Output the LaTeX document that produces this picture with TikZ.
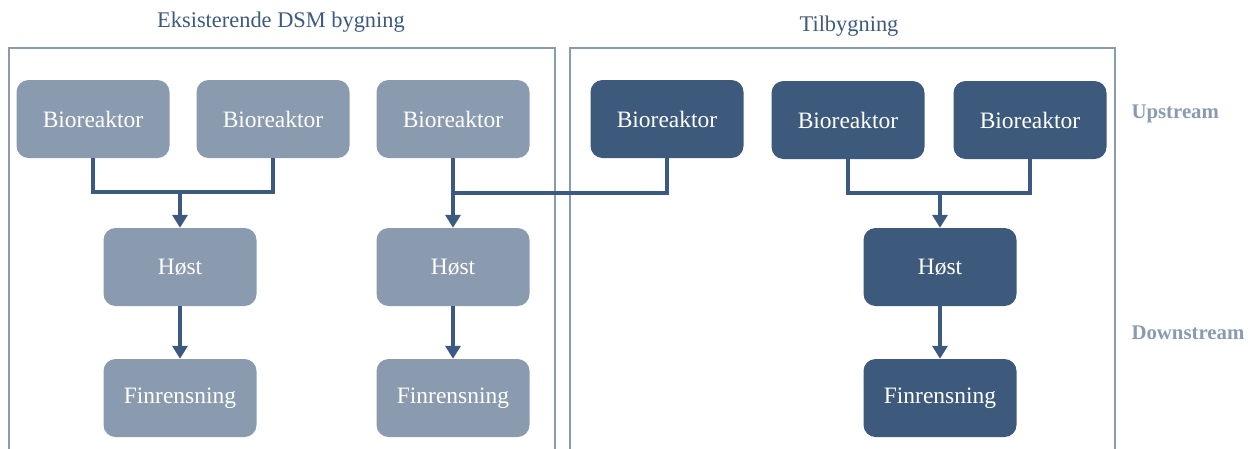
\documentclass[tikz,border=0pt]{standalone}
\usepackage{fontspec}
\setmainfont{Liberation Serif}
\usetikzlibrary{arrows.meta}
\definecolor{lightbox}{HTML}{8A9BB0}
\definecolor{darkbox}{HTML}{3D5A7D}
\definecolor{linkcol}{HTML}{3C5A80}
\definecolor{framecol}{HTML}{8A9BB0}
\definecolor{titlecol}{HTML}{3D5A7D}
\tikzset{
  proc/.style={rounded corners=12pt, minimum width=153pt, minimum height=78pt,
    text=white, font=\fontsize{23.5}{26}\selectfont, inner sep=0pt},
  oldproc/.style={proc, fill=lightbox},
  newproc/.style={proc, fill=darkbox},
  link/.style={draw=linkcol, line width=4pt},
  flow/.style={link, -{Triangle[width=15pt,length=13pt]}},
  frame/.style={draw=framecol, line width=1.5pt},
  title/.style={text=titlecol, font=\fontsize{22.4}{26}\selectfont},
  stage/.style={text=lightbox, font=\bfseries\fontsize{20.8}{23}\selectfont, anchor=west}
}
\begin{document}
\begin{tikzpicture}[x=1pt,y=-1pt]
\useasboundingbox (0,0) rectangle (1257,448);
% building outlines, open at the bottom
\draw[frame] (9,449) |- (555,48) -- (555,449);
\draw[frame] (570,449) |- (1115,48) -- (1115,449);
\node[title] (t1) at (281,22) {Eksisterende DSM bygning};
\node[title] (t2) at (849,26) {Tilbygning};
\node[stage] (up) at (1128,114) {Upstream};
\node[stage] (down) at (1128,333) {Downstream};
% existing building
\node[oldproc] (b1) at (93,119) {Bioreaktor};
\node[oldproc] (b2) at (273,119) {Bioreaktor};
\node[oldproc] (b3) at (453,119) {Bioreaktor};
\node[oldproc] (h1) at (180,267) {Høst};
\node[oldproc] (h2) at (453,267) {Høst};
\node[oldproc] (f1) at (180,398) {Finrensning};
\node[oldproc] (f2) at (453,398) {Finrensning};
% extension
\node[newproc] (b4) at (667,119) {Bioreaktor};
\node[newproc] (b5) at (848,120) {Bioreaktor};
\node[newproc] (b6) at (1030,120) {Bioreaktor};
\node[newproc] (h3) at (940,267) {Høst};
\node[newproc] (f3) at (940,398) {Finrensning};
% merge points
\coordinate (m1) at (180,192);
\coordinate (m2) at (453,193);
\coordinate (m3) at (940,193);
% connections
\draw[link] (b1.south) |- (m1) -| (b2.south);
\draw[flow] (m1) -- (h1.north);
\draw[link] (b4.south) |- (m2);
\draw[flow] (b3.south) -- (h2.north);
\draw[link] (b5.south) |- (m3) -| (b6.south);
\draw[flow] (m3) -- (h3.north);
\draw[flow] (h1.south) -- (f1.north);
\draw[flow] (h2.south) -- (f2.north);
\draw[flow] (h3.south) -- (f3.north);
\end{tikzpicture}
\end{document}
